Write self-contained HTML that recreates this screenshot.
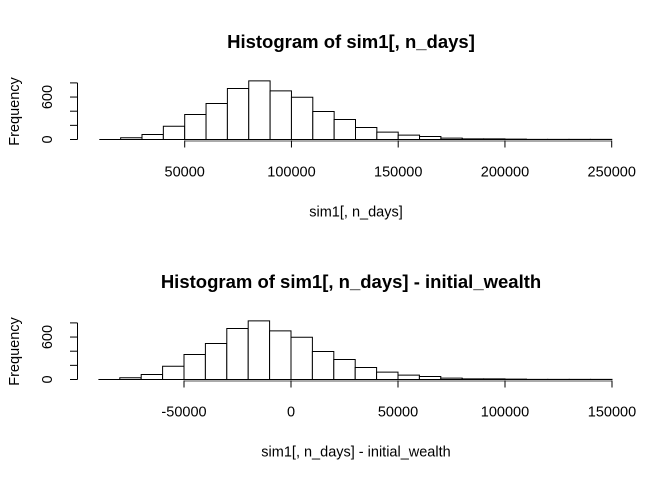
<!DOCTYPE html>
<html><head><meta charset="utf-8"><style>
body{margin:0;background:#fff}
svg{display:block;font-family:"Liberation Sans",Arial,sans-serif}
</style></head><body>
<svg id="c" width="672" height="480" viewBox="0 0 672 480"></svg>
<script>
const binStarts=[10000,20000,30000,40000,50000,60000,70000,80000,90000,100000,110000,120000,130000,140000,150000,160000,170000,180000,190000,200000,210000,220000,230000,240000];
const counts=[0,24,71,188,353,509,721,829,688,598,396,283,170,104,61,42,19,9,9,5,2,1,1,1];
const binWidth=10000;
const initialWealth=100000;
const topTicks=[50000,100000,150000,200000,250000];
const bottomTicks=[-50000,0,50000,100000,150000];
const yTicks=[0,200,400,600,800];
const yLabels=["0","","","600",""];
const NS="http://www.w3.org/2000/svg";
const svg=document.getElementById('c');
function el(t,a,p){const e=document.createElementNS(NS,t);for(const k in a)e.setAttribute(k,a[k]);(p||svg).appendChild(e);return e;}
function panel(cfg){
  const g=el('g',{});
  
  
  const X=v=>cfg.x0+(v-cfg.v0)*cfg.px;
  const Y=c=>cfg.base-c*cfg.py;
  const t=el('text',{x:351,y:cfg.titleY,'text-anchor':'middle','font-size':'18.5','font-weight':'bold'},g);
  t.textContent=cfg.title;
  
  binStarts.forEach((b,i)=>{
    const s=b+cfg.shift;
    const x1=X(s),x2=X(s+binWidth),y0=cfg.base,y1=Y(counts[i]);
    const r=el('path',{d:`M${x1},${y0}V${y1}H${x2}V${y0}Z`,fill:'#fff',stroke:'#000','stroke-width':1},g);
    
    
  });
  const xa=el('g',{},g);
  
  const ticks=cfg.ticks;
  el('line',{x1:X(ticks[0]),x2:X(ticks[ticks.length-1]),y1:cfg.base+1.5,y2:cfg.base+1.5,stroke:'#777','stroke-width':1.2},xa);
  ticks.forEach(v=>{
    el('line',{x1:X(v),x2:X(v),y1:cfg.base+1,y2:cfg.base+8,stroke:'#000'},xa);
    const tl=el('text',{x:X(v),y:cfg.base+37,'text-anchor':'middle','font-size':'14.5'},xa);
    tl.textContent=v;
    
  });
  const xl=el('text',{x:356,y:cfg.base+77,'text-anchor':'middle','font-size':'14.5'},g);
  xl.textContent=cfg.xlab;
  
  const ya=el('g',{},g);
  
  el('line',{x1:77.5,x2:77.5,y1:Y(0),y2:Y(800),stroke:'#000'},ya);
  yTicks.forEach((v,i)=>{
    el('line',{x1:70,x2:77.5,y1:Y(v),y2:Y(v),stroke:'#000'},ya);
    if(yLabels[i]){const tl=el('text',{x:0,y:0,'text-anchor':'middle','font-size':'14.5',transform:`translate(52,${Y(v)}) rotate(-90)`},ya);
    tl.textContent=yLabels[i];
    }
  });
  const yl=el('text',{x:0,y:0,'text-anchor':'middle','font-size':'14.5',transform:`translate(19,${cfg.base-28}) rotate(-90)`},g);
  yl.textContent='Frequency';
  
}
panel({name:'top-histogram',title:'Histogram of sim1[, n_days]',xlab:'sim1[, n_days]',titleY:48,x0:184.7,v0:50000,px:21.35/10000,base:139.5,py:56.6/800,shift:0,ticks:topTicks});
panel({name:'bottom-histogram',title:'Histogram of sim1[, n_days] - initial_wealth',xlab:'sim1[, n_days] - initial_wealth',titleY:288,x0:291,v0:0,px:21.4/10000,base:379.5,py:56.6/800,shift:-initialWealth,ticks:bottomTicks});
</script>
</body></html>
